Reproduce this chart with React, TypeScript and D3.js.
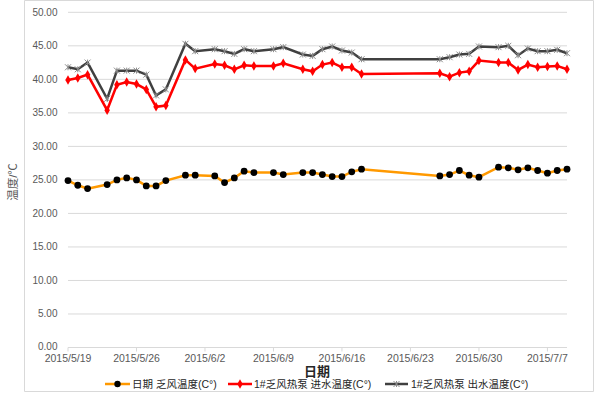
import * as d3 from "d3";

const W = 600;
const H = 395;

// sample dates (days with readings)
const dates = [
  "2015-05-19", "2015-05-20", "2015-05-21", "2015-05-23", "2015-05-24",
  "2015-05-25", "2015-05-26", "2015-05-27", "2015-05-28", "2015-05-29",
  "2015-05-31", "2015-06-01", "2015-06-03", "2015-06-04", "2015-06-05",
  "2015-06-06", "2015-06-07", "2015-06-09", "2015-06-10", "2015-06-12",
  "2015-06-13", "2015-06-14", "2015-06-15", "2015-06-16", "2015-06-17",
  "2015-06-18", "2015-06-26", "2015-06-27", "2015-06-28", "2015-06-29",
  "2015-06-30", "2015-07-02", "2015-07-03", "2015-07-04", "2015-07-05",
  "2015-07-06", "2015-07-07", "2015-07-08", "2015-07-09",
];

const airTemp = [
  24.9, 24.2, 23.7, 24.3, 25.0, 25.3, 25.0, 24.1, 24.1, 24.9,
  25.7, 25.7, 25.6, 24.6, 25.3, 26.3, 26.1, 26.1, 25.8, 26.1,
  26.1, 25.8, 25.5, 25.5, 26.2, 26.6, 25.6, 25.8, 26.4, 25.7,
  25.4, 26.9, 26.8, 26.5, 26.8, 26.4, 26.0, 26.4, 26.6,
];

const inletTemp = [
  39.9, 40.2, 40.7, 35.4, 39.2, 39.6, 39.3, 38.5, 35.9, 36.1,
  42.9, 41.6, 42.3, 42.1, 41.5, 42.1, 42.0, 42.0, 42.4, 41.5,
  41.2, 42.2, 42.5, 41.8, 41.8, 40.8, 40.9, 40.4, 41.0, 41.2,
  42.8, 42.5, 42.5, 41.4, 42.2, 41.8, 41.9, 42.0, 41.5,
];

const outletTemp = [
  41.8, 41.5, 42.5, 37.1, 41.3, 41.3, 41.3, 40.7, 37.6, 38.5,
  45.3, 44.2, 44.5, 44.2, 43.8, 44.5, 44.2, 44.5, 44.8, 43.7,
  43.5, 44.5, 44.9, 44.3, 44.0, 43.0, 43.0, 43.3, 43.7, 43.8,
  44.9, 44.8, 45.0, 43.6, 44.6, 44.2, 44.2, 44.4, 43.9,
];

const xTickDates = [
  "2015-05-19", "2015-05-26", "2015-06-02", "2015-06-09",
  "2015-06-16", "2015-06-23", "2015-06-30", "2015-07-07",
];
const xTickLabels = [
  "2015/5/19", "2015/5/26", "2015/6/2", "2015/6/9",
  "2015/6/16", "2015/6/23", "2015/6/30", "2015/7/7",
];
const yTicks = [0, 5, 10, 15, 20, 25, 30, 35, 40, 45, 50];

const seriesNames = [
  "日期 乏风温度(C°)",
  "1#乏风热泵 进水温度(C°)",
  "1#乏风热泵 出水温度(C°)",
];

const parse = d3.timeParse("%Y-%m-%d");
const FONT = "'Liberation Sans', Arial, 'Noto Sans CJK SC', sans-serif";

export default function App() {
  const margin = { top: 12.3, right: 33, bottom: 47.5, left: 68 };
  const x = d3
    .scaleTime()
    .domain([parse("2015-05-19")!, parse("2015-07-09")!])
    .range([margin.left, W - margin.right]);
  const y = d3
    .scaleLinear()
    .domain([0, 50])
    .range([H - margin.bottom, margin.top]);

  const pts = (vals: number[]) =>
    vals.map((v, i) => [x(parse(dates[i])!), y(v)] as [number, number]);

  const line = d3.line<[number, number]>();
  const air = pts(airTemp);
  const inlet = pts(inletTemp);
  const outlet = pts(outletTemp);

  const diamond = d3.symbol(d3.symbolDiamond, 26)()!;
  const x0 = margin.left;
  const x1 = W - margin.right;
  const yb = y(0);

  // star-like marker used by the outlet series
  const cross = (cx: number, cy: number, k: string) => (
    <path
      key={k}
      d={`M${cx - 3},${cy - 3}L${cx + 3},${cy + 3}M${cx - 3},${cy + 3}L${cx + 3},${cy - 3}M${cx},${cy - 3}L${cx},${cy + 3}`}
      stroke="#8c8c8c"
      strokeWidth={1}
      fill="none"
    />
  );

  const legendY = 384;

  return (
    <svg
      width={W}
      height={H}
      style={{ position: "absolute", left: 0, top: 0, background: "#fff" }}
      fontFamily={FONT}
    >
      {/* chart area border */}
      <path
        d={`M24.5,0.5H593.5V391.5H24.5Z`}
        fill="none"
        stroke="#d9d9d9"
        strokeWidth={1}
      />

      {/* gridlines and y labels */}
      {yTicks.map((t) => (
        <g key={t}>
          <line
            x1={x0}
            x2={x1}
            y1={y(t)}
            y2={y(t)}
            stroke="#d9d9d9"
            strokeWidth={1}
          />
          <text
            x={57.5}
            y={y(t)}
            dy={t === 0 ? "0.25em" : "0.35em"}
            textAnchor="end"
            fontSize={10}
            fill="#595959"
          >
            {t.toFixed(2)}
          </text>
        </g>
      ))}

      {/* x axis ticks and labels */}
      {xTickDates.map((d, i) => {
        const xx = x(parse(d)!);
        return (
          <g key={d}>
            <line x1={xx} x2={xx} y1={yb} y2={yb + 4} stroke="#d9d9d9" />
            <text
              x={xx}
              y={yb + 14}
              textAnchor="middle"
              fontSize={10.5}
              fill="#595959"
            >
              {xTickLabels[i]}
            </text>
          </g>
        );
      })}

      {/* axis titles */}
      <text
        x={317}
        y={376}
        textAnchor="middle"
        fontSize={13}
        fontWeight="bold"
        fill="#262626"
      >
        日期
      </text>
      <text
        transform="translate(17,182) rotate(-90)"
        textAnchor="middle"
        fontSize={11.5}
        fill="#595959"
      >
        温度/℃
      </text>

      {/* series lines */}
      <path d={line(outlet)!} fill="none" stroke="#404040" strokeWidth={2.5} />
      {outlet.map(([cx, cy], i) => cross(cx, cy, `o${i}`))}

      <path d={line(inlet)!} fill="none" stroke="#ff0000" strokeWidth={2.5} />
      {inlet.map(([cx, cy], i) => (
        <path
          key={`r${i}`}
          d={diamond}
          transform={`translate(${cx},${cy})`}
          fill="#ff0000"
        />
      ))}

      <path d={line(air)!} fill="none" stroke="#ff9900" strokeWidth={2.5} />
      {air.map(([cx, cy], i) => (
        <circle key={`a${i}`} cx={cx} cy={cy} r={3.4} fill="#000" />
      ))}

      {/* legend */}
      <g fontSize={10.5} fill="#262626">
        <line x1={105} x2={130} y1={legendY} y2={legendY} stroke="#ff9900" strokeWidth={2.5} />
        <circle cx={117.5} cy={legendY} r={3.2} fill="#000" />
        <text x={132} y={legendY} dy="0.35em">
          {seriesNames[0]}
        </text>

        <line x1={228} x2={252} y1={legendY} y2={legendY} stroke="#ff0000" strokeWidth={2.5} />
        <path d={diamond} transform={`translate(240,${legendY})`} fill="#ff0000" />
        <text x={254} y={legendY} dy="0.35em">
          {seriesNames[1]}
        </text>

        <line x1={385} x2={408} y1={legendY} y2={legendY} stroke="#404040" strokeWidth={2.5} />
        {cross(396.5, legendY, "lg")}
        <text x={411} y={legendY} dy="0.35em">
          {seriesNames[2]}
        </text>
      </g>
    </svg>
  );
}
